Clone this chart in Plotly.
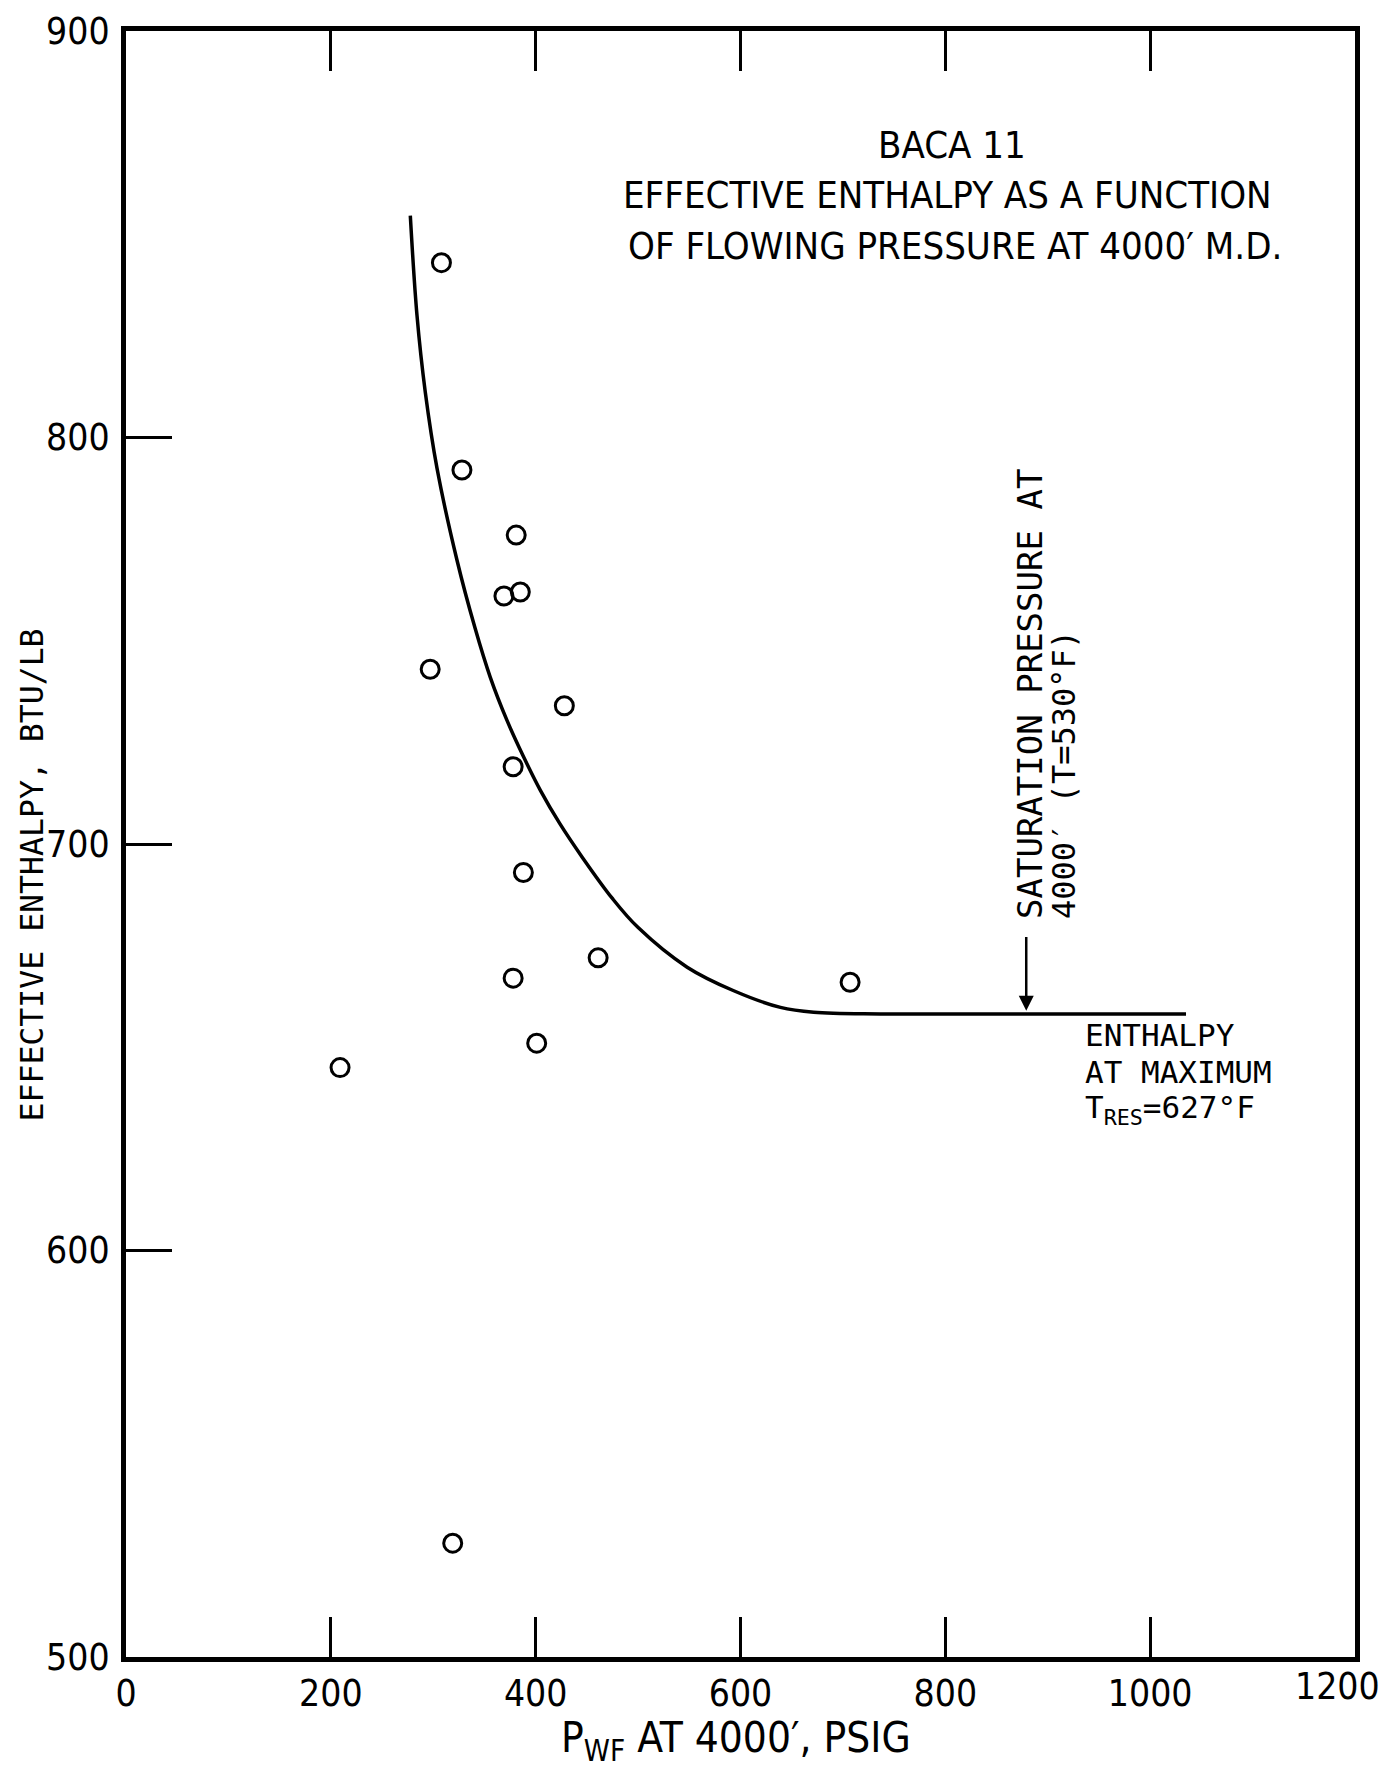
import plotly.graph_objects as go

# Measured data points (P_wf psig, effective enthalpy BTU/lb)
pwf_points = [308, 328, 381, 369, 385, 297, 428, 378, 388, 378, 461, 401, 707, 209, 319]
enthalpy_points = [843, 792, 776, 761, 762, 743, 734, 719, 693, 667, 672, 651, 666, 645, 528]

# Hand-drawn fitted curve
curve_pwf = [277.6, 284.1, 292.2, 303.7, 323.2, 340.6, 355.7, 372.0, 388.3, 404.6, 423.6,
             445.6, 474.9, 499.8, 547.9, 593.4, 639.0, 671.5, 736.7, 850.0, 1035.0]
curve_enthalpy = [854.6, 830.1, 811.2, 792.4, 769.8, 753.3, 741.0, 730.4, 721.4, 713.2, 705.0,
                  696.7, 686.6, 679.5, 669.7, 663.9, 659.8, 658.6, 658.2, 658.2, 658.2]

x_ticks = [0, 200, 400, 600, 800, 1000, 1200]
y_ticks = [500, 600, 700, 800, 900]

NARROW = "Liberation Sans Narrow, DejaVu Sans Condensed, Arial Narrow, sans-serif"
MONO = "DejaVu Sans Mono, Liberation Mono, monospace"

# page layout (the html body has an 8px margin)
BODY = 8
PL, PT, PW, PH = 125.8, 30.7, 1229.0, 1626.0   # plot area on the page
FIG_W, FIG_H = 1385, 1765
ML, MT = PL - BODY, PT - BODY
MR = FIG_W - ML - PW
MB = FIG_H - MT - PH


def px(xp):
    return (xp - PL) / PW


def py(yp):
    return 1 - (yp - PT) / PH


fig = go.Figure()
fig.add_trace(go.Scatter(x=curve_pwf, y=curve_enthalpy, mode="lines",
                         line=dict(color="black", width=3.5, shape="spline", smoothing=1.0),
                         hoverinfo="skip", showlegend=False))
fig.add_trace(go.Scatter(x=pwf_points, y=enthalpy_points, mode="markers",
                         marker=dict(symbol="circle-open", size=18, color="black",
                                     line=dict(width=3, color="black")),
                         showlegend=False))

fig.update_layout(
    width=FIG_W, height=FIG_H, autosize=False,
    margin=dict(l=ML, r=MR, t=MT, b=MB, pad=0),
    plot_bgcolor="white", paper_bgcolor="white",
    font=dict(family=NARROW, color="black"),
)
fig.update_xaxes(range=[0, 1200], tickvals=x_ticks[:-1], ticktext=[str(v) for v in x_ticks[:-1]],
                 showgrid=False, zeroline=False, showline=True, linewidth=5, linecolor="black",
                 mirror="ticks", ticks="inside", ticklen=40, tickwidth=2.5, tickcolor="black",
                 automargin=False,
                 tickfont=dict(family=NARROW, size=37, color="black"))
fig.update_yaxes(range=[500, 900], tickvals=y_ticks, ticktext=[str(v) for v in y_ticks],
                 showgrid=False, zeroline=False, showline=True, linewidth=5, linecolor="black",
                 mirror=True, ticks="inside", ticklen=46, tickwidth=2.5, tickcolor="black",
                 ticklabelstandoff=4, automargin=False,
                 tickfont=dict(family=NARROW, size=37, color="black"))

# last x tick label sits on the right frame corner
fig.add_annotation(text=str(x_ticks[-1]), x=x_ticks[-1], y=y_ticks[0], xref="x", yref="y",
                   xanchor="right", yanchor="top", xshift=27, yshift=-6, showarrow=False,
                   font=dict(family=NARROW, size=37, color="black"))

# Title block
title_lines = [("BACA 11", 952, 145),
               ("EFFECTIVE ENTHALPY AS A FUNCTION", 947, 195),
               ("OF FLOWING PRESSURE AT 4000\u2032 M.D.", 955, 246)]
for txt, xp, yp in title_lines:
    fig.add_annotation(text=txt, xref="paper", yref="paper", x=px(xp), y=py(yp),
                       xanchor="center", yanchor="middle", showarrow=False,
                       font=dict(family=NARROW, size=38, color="black"))

# Axis titles
fig.add_annotation(text="EFFECTIVE ENTHALPY, BTU/LB", xref="paper", yref="paper",
                   x=px(32), y=py(875), textangle=-90,
                   xanchor="center", yanchor="middle", showarrow=False,
                   font=dict(family=MONO, size=31.5, color="black"))
fig.add_annotation(text="P<sub>WF</sub> AT 4000\u2032, PSIG", xref="paper", yref="paper",
                   x=px(736), y=py(1740),
                   xanchor="center", yanchor="middle", showarrow=False,
                   font=dict(family=NARROW, size=42, color="black"))

# Saturation pressure arrow and label
fig.add_annotation(x=879, y=659, ax=879, ay=677.5, xref="x", yref="y", axref="x", ayref="y",
                   text="", showarrow=True, arrowhead=2, arrowsize=1.2, arrowwidth=2.5,
                   arrowcolor="black")
fig.add_annotation(text="<span style='font-size:34px'>SATURATION PRESSURE AT</span><br>"
                        "<span style='font-size:32px'>4000\u2032 (T=530\u00b0F)</span>",
                   x=899, y=681, xref="x", yref="y", align="left",
                   textangle=-90, xanchor="center", yanchor="bottom", showarrow=False,
                   font=dict(family=MONO, size=25, color="black"))

# Enthalpy at maximum reservoir temperature label
ent_lines = [("ENTHALPY", 652.9), ("AT MAXIMUM", 643.9), ("T<sub>RES</sub>=627\u00b0F", 634.6)]
for txt, yv in ent_lines:
    fig.add_annotation(text=txt, x=934, y=yv, xref="x", yref="y",
                       xanchor="left", yanchor="middle", showarrow=False,
                       font=dict(family=MONO, size=31, color="black"))

fig.write_html("out.html")
